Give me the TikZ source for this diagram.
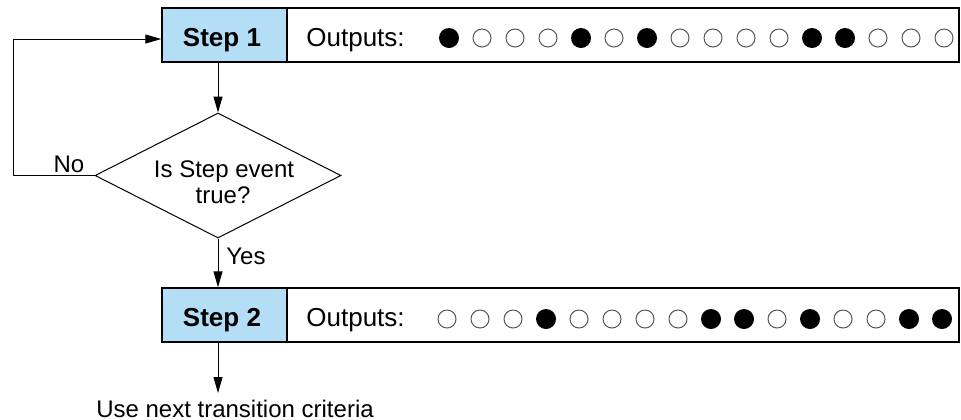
\documentclass[tikz,border=0pt]{standalone}
\usepackage{fontspec}
\setmainfont{Liberation Sans}
\usetikzlibrary{shapes.geometric,arrows.meta}
\definecolor{stepblue}{HTML}{B3DEF5}
\definecolor{ringgray}{HTML}{555555}
\tikzset{
  txt/.style={font=\fontsize{12}{13}\selectfont, inner sep=0pt},
  boxtxt/.style={font=\fontsize{13}{14}\selectfont, inner sep=0pt},
  stepbox/.style={draw=black, line width=0.75pt, fill=stepblue, minimum width=62.5pt, minimum height=27pt, inner sep=0pt},
  outbox/.style={draw=black, line width=0.75pt, fill=white, minimum width=336pt, minimum height=27pt, inner sep=0pt},
  dec/.style={draw=black, line width=0.5pt, diamond, minimum width=123pt, minimum height=62.5pt, inner sep=0pt},
  on/.style={circle, fill=black, minimum size=10pt, inner sep=0pt},
  off/.style={circle, draw=ringgray, line width=0.5pt, fill=white, minimum size=9pt, inner sep=0pt},
  conn/.style={line width=0.5pt, -{Triangle[length=8pt,width=4.5pt]}},
}
\begin{document}
\begin{tikzpicture}[x=0.5pt,y=-0.5pt]
\useasboundingbox (0,0) rectangle (961,419);
% step 1
\node[outbox] (out1) at (623,35) {};
\node[stepbox] (step1) at (224.5,35) {};
\node[boxtxt, anchor=base, font=\fontsize{13}{14}\selectfont\bfseries] (s1t) at (222,46.5) {Step 1};
\node[boxtxt, anchor=base west] (o1) at (306,46.5) {Outputs:};
\foreach \s [count=\i from 0] in {1,0,0,0,1,0,1,0,0,0,0,1,1,0,0,0}{
  \ifnum\s=1
    \node[on] (a\i) at (449+33*\i,38) {};
  \else
    \node[off] (a\i) at (449+33*\i,38) {};
  \fi
}
% decision
\node[dec] (dia) at (218,175.5) {};
\node[txt, anchor=base] (d1) at (224,177) {Is Step event};
\node[txt, anchor=base] (d2) at (223,203) {true?};
% step 2
\node[outbox] (out2) at (623,315) {};
\node[stepbox] (step2) at (224.5,315) {};
\node[boxtxt, anchor=base, font=\fontsize{13}{14}\selectfont\bfseries] (s2t) at (222,326.5) {Step 2};
\node[boxtxt, anchor=base west] (o2) at (306,326.5) {Outputs:};
\foreach \s [count=\i from 0] in {0,0,0,1,0,0,0,0,1,1,0,1,0,0,1,1}{
  \ifnum\s=1
    \node[on] (b\i) at (447+33*\i,319) {};
  \else
    \node[off] (b\i) at (447+33*\i,319) {};
  \fi
}
% labels
\node[txt, anchor=base] (no) at (69,172) {No};
\node[txt, anchor=base west] (yes) at (226,264) {Yes};
\node[txt, anchor=base] (next) at (235,417) {Use next transition criteria};
\coordinate (endp) at (218,393);
\coordinate (loopx) at (13,175.5);
% connectors
\draw[conn] (step1.south -| dia.north) -- (dia.north);
\draw[conn] (dia.south) -- (dia.south |- step2.north);
\draw[conn] (step2.south -| dia.south) -- (endp);
\draw[conn] (dia.west) -- (loopx) |- ([yshift=-2pt]step1.west);
\end{tikzpicture}
\end{document}
